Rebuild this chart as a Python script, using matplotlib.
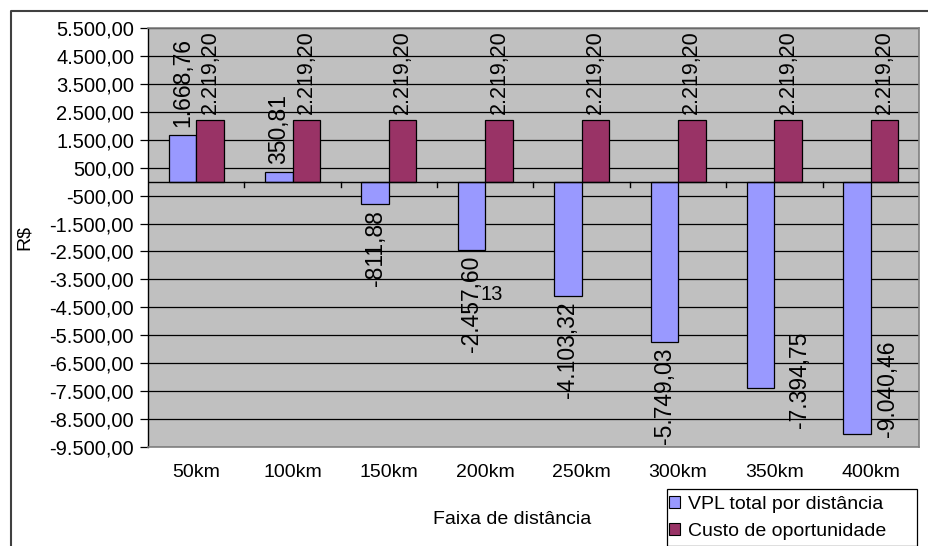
import matplotlib
matplotlib.use("Agg")
import matplotlib.pyplot as plt
from matplotlib.lines import Line2D
from matplotlib.patches import Patch, Rectangle
import numpy as np

plt.rcParams['font.family'] = ['Liberation Sans', 'DejaVu Sans']

categorias = ['50km', '100km', '150km', '200km', '250km', '300km', '350km', '400km']
vpl = [1668.76, 350.81, -811.88, -2457.60, -4103.32, -5749.03, -7394.75, -9040.46]
custo = [2219.20] * 8
yticks = np.arange(-9500, 5501, 1000)


def br(v):
    s = '{:,.2f}'.format(v)
    return s.replace(',', 'X').replace('.', ',').replace('X', '.')


W, H = 929, 546
fig = plt.figure(figsize=(W / 100, H / 100), dpi=100)
ax = fig.add_axes([148 / W, (H - 447) / H, (919 - 148) / W, (447 - 28) / H])
ax.set_facecolor('#C0C0C0')

x = np.arange(len(categorias))
bw = 1 / 3.5
ax.bar(x - bw / 2, vpl, bw, color='#9999FF', edgecolor='black', linewidth=0.9, zorder=3)
ax.bar(x + bw / 2, custo, bw, color='#993366', edgecolor='black', linewidth=0.9, zorder=3)

# labels that don't fit under the bar go beside it (like excel does)
beside = {6: (0.255, -8820), 7: (0.168, -9140)}
for i, (xi, v) in enumerate(zip(x, vpl)):
    if i in beside:
        dx, yb = beside[i]
        ax.text(xi + dx, yb, br(v), rotation=90, ha='center', va='bottom',
                fontsize=16.5, zorder=4)
    elif v > 0:
        ax.annotate(br(v), (xi - bw / 2, v), xytext=(0, 6), textcoords='offset points',
                    rotation=90, ha='center', va='bottom', fontsize=16.5, zorder=4)
    else:
        ax.annotate(br(v), (xi - bw / 2, v), xytext=(0, -4), textcoords='offset points',
                    rotation=90, ha='center', va='top', fontsize=16.5, zorder=4)
for xi, v in zip(x, custo):
    ax.annotate(br(v), (xi + bw / 2, v), xytext=(0, 4), textcoords='offset points',
                rotation=90, ha='center', va='bottom', fontsize=15.5, zorder=4)

ax.text(2.945, -4050, '13', fontsize=14.5, va='center', ha='left', zorder=4)

ax.set_xlim(-0.5, len(categorias) - 0.5)
ax.set_ylim(-9500, 5500)
ax.set_yticks(yticks)
ax.set_yticklabels([br(v) for v in yticks], fontsize=14.5)
ax.yaxis.grid(True, color='black', linewidth=0.9, zorder=1)
ax.tick_params(axis='y', length=6, width=0.9, pad=4)
ax.set_xticks(x)
ax.set_xticklabels(categorias, fontsize=14)
ax.tick_params(axis='x', length=0, pad=12)

ax.axhline(0, color='black', linewidth=1.0, zorder=3)
for b in np.arange(0.5, len(categorias) - 0.5, 1.0):
    ax.plot([b, b], [0, -180], color='black', linewidth=1.0, zorder=3)

for s in ['top', 'right', 'bottom']:
    ax.spines[s].set_color('#808080')
    ax.spines[s].set_linewidth(1.2)
ax.spines['left'].set_color('black')
ax.spines['left'].set_linewidth(1.0)

ax.set_ylabel('R$', fontsize=14, labelpad=12)
fig.text(512 / W, 1 - 519 / H, 'Faixa de distância', fontsize=14, ha='center', va='center')

# legend: box drawn by hand, excel leaves extra room on the right
fig.add_artist(Rectangle((667 / W, 0.5 / H), 250 / W, 57 / H, transform=fig.transFigure,
                         facecolor='white', edgecolor='black', linewidth=0.9, zorder=5))
handles = [Patch(facecolor='#9999FF', edgecolor='black', linewidth=0.8, label='VPL total por distância'),
           Patch(facecolor='#993366', edgecolor='black', linewidth=0.8, label='Custo de oportunidade')]
leg = fig.legend(handles=handles, loc='upper left', bbox_to_anchor=(669 / W, 1 - 496 / H),
                 fontsize=14, frameon=False, handlelength=0.55,
                 handleheight=0.55, handletextpad=0.45, borderpad=0.0, labelspacing=0.52,
                 borderaxespad=0)
leg.set_zorder(6)

fig.add_artist(Line2D([11 / W, 11 / W, 1], [0, 1 - 11 / H, 1 - 11 / H],
                      color='#404040', linewidth=1.5, transform=fig.transFigure))

fig.savefig('out.png', dpi=100)
